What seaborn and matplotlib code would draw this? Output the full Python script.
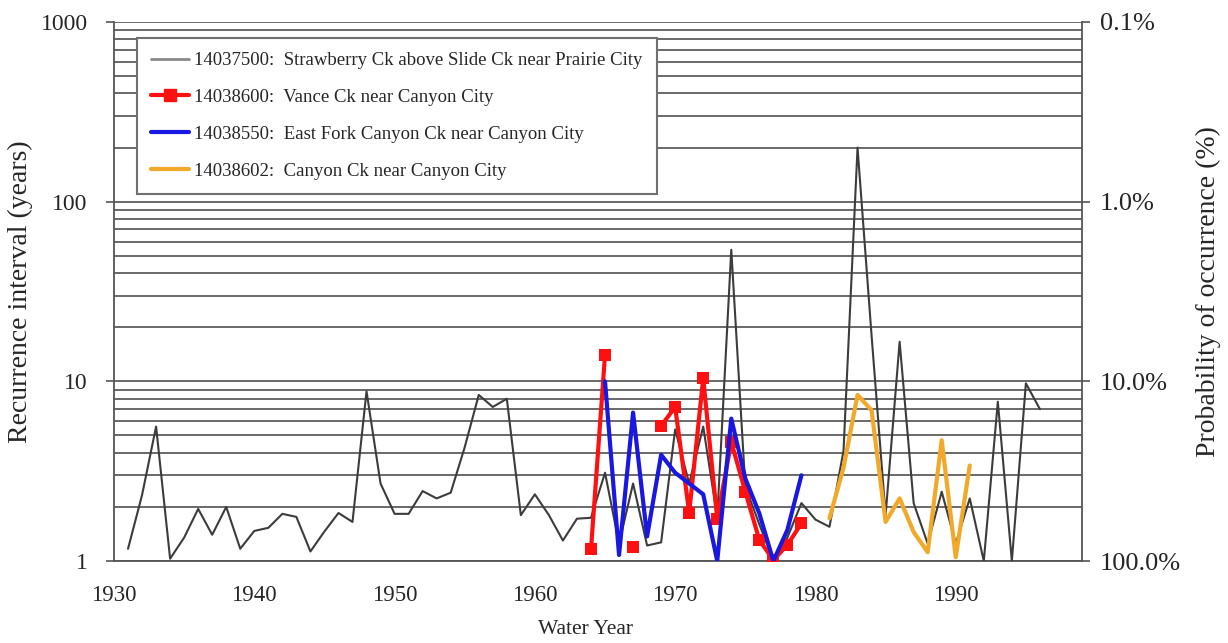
import numpy as np
import pandas as pd
import matplotlib
matplotlib.use("Agg")
import matplotlib.pyplot as plt
from matplotlib.lines import Line2D
from matplotlib.ticker import MultipleLocator, FixedLocator, NullFormatter, LogLocator
import seaborn as sns

# Annual peak-flow recurrence intervals (years) by water year
strawberry_years = list(range(1931, 1997))
strawberry_ri = [
    1.17, 2.33, 5.6, 1.03, 1.35, 1.95, 1.4, 2.0, 1.17, 1.47,
    1.53, 1.83, 1.76, 1.13, 1.46, 1.85, 1.65, 8.8, 2.7, 1.83,
    1.83, 2.45, 2.23, 2.4, 4.3, 8.4, 7.2, 8.0, 1.8, 2.35,
    1.8, 1.3, 1.72, 1.74, 3.1, 1.25, 2.7, 1.22, 1.27, 5.4,
    2.7, 5.6, 1.75, 54.0, 2.6, 1.6, 1.0, 1.35, 2.1, 1.7,
    1.55, 4.1, 200.0, 18.0, 1.8, 16.6, 2.1, 1.25, 2.43, 1.25,
    2.23, 1.0, 7.7, 1.0, 9.75, 7.0,
]

vance_years = list(range(1964, 1980))
vance_ri = [1.16, 14.0, np.nan, 1.19, np.nan, 5.65, 7.2, 1.86,
            10.4, 1.72, 4.6, 2.43, 1.31, 1.01, 1.23, 1.62]

eastfork_years = list(range(1965, 1980))
eastfork_ri = [10.0, 1.08, 6.7, 1.37, 3.9, 3.1, 2.7, 2.35,
               1.0, 6.2, 2.88, 1.84, 1.0, 1.49, 3.0]

canyon_years = list(range(1981, 1992))
canyon_ri = [1.73, 3.3, 8.4, 6.9, 1.65, 2.23, 1.45, 1.12, 4.7, 1.05, 3.4]

series_labels = [
    "14037500:  Strawberry Ck above Slide Ck near Prairie City",
    "14038600:  Vance Ck near Canyon City",
    "14038550:  East Fork Canyon Ck near Canyon City",
    "14038602:  Canyon Ck near Canyon City",
]
series_colors = ["#3c3c3c", "#ff1010", "#1818e0", "#f2a828"]

ri_ticks = [1, 10, 100, 1000]
ri_tick_labels = ["1", "10", "100", "1000"]
prob_tick_labels = ["100.0%", "10.0%", "1.0%", "0.1%"]
decade_ticks = [1930, 1940, 1950, 1960, 1970, 1980, 1990]


def to_frame(years, values):
    df = pd.DataFrame({"year": years, "ri": values})
    # break the line wherever a year is missing
    df["segment"] = df["ri"].isna().cumsum()
    return df.dropna()


sns.set_theme(style="white")
plt.rcParams["font.family"] = ["Liberation Serif", "DejaVu Serif"]
text_color = "#262626"
axis_color = "#555555"

fig = plt.figure(figsize=(12.28, 6.43), dpi=100)
ax = fig.add_axes([114 / 1228, 1 - 561 / 643, (1082 - 114) / 1228, (561 - 22) / 643])

ax.set_yscale("log")
ax.set_ylim(1, 1000)
ax.set_xlim(1930, 1999)

# horizontal grid on every log decade subdivision
ax.yaxis.set_major_locator(FixedLocator(ri_ticks))
ax.yaxis.set_minor_locator(LogLocator(base=10, subs=np.arange(2, 10)))
ax.yaxis.set_minor_formatter(NullFormatter())
ax.set_yticklabels(ri_tick_labels)
ax.yaxis.grid(True, which="both", color="#5e5e5e", lw=1.3)
ax.set_axisbelow(True)

straw = to_frame(strawberry_years, strawberry_ri)
vance = to_frame(vance_years, vance_ri)
east = to_frame(eastfork_years, eastfork_ri)
canyon = to_frame(canyon_years, canyon_ri)

sns.lineplot(data=straw, x="year", y="ri", color=series_colors[0], lw=1.5,
             estimator=None, units="segment", ax=ax, legend=False, zorder=3)
sns.lineplot(data=canyon, x="year", y="ri", color=series_colors[3], lw=3,
             estimator=None, units="segment", ax=ax, legend=False, zorder=4)
sns.lineplot(data=vance, x="year", y="ri", color=series_colors[1], lw=3,
             estimator=None, units="segment", ax=ax, legend=False, zorder=4)
sns.scatterplot(data=vance, x="year", y="ri", color=series_colors[1], marker="s",
                s=80, linewidth=0, ax=ax, legend=False, zorder=5)
sns.lineplot(data=east, x="year", y="ri", color=series_colors[2], lw=3,
             estimator=None, units="segment", ax=ax, legend=False, zorder=6)

# x axis: decades labelled, every year ticked
ax.xaxis.set_major_locator(FixedLocator(decade_ticks))
ax.xaxis.set_minor_locator(MultipleLocator(1))
ax.tick_params(axis="x", which="major", direction="inout", length=12, width=1.2,
               color=axis_color, labelsize=16.5, labelcolor=text_color, pad=11)
ax.tick_params(axis="x", which="minor", direction="inout", length=6, width=1.0,
               color=axis_color)
ax.tick_params(axis="y", which="major", direction="out", length=6, width=1.2,
               color=axis_color, labelsize=17, labelcolor=text_color, pad=13)
ax.tick_params(axis="y", which="minor", length=0)

for side in ["left", "right", "bottom"]:
    ax.spines[side].set_visible(True)
    ax.spines[side].set_color(axis_color)
    ax.spines[side].set_linewidth(1.3)
ax.spines["top"].set_visible(False)

ax.set_xlabel("Water Year", fontsize=15.5, color=text_color, va="center")
ax.xaxis.set_label_coords(0.4866, (561 - 630) / 539)
ax.set_ylabel("Recurrence interval (years)", fontsize=20, color=text_color, va="center")
ax.yaxis.set_label_coords((20 - 114) / 968, 0.5)

# right axis: exceedance probability of the same recurrence interval
ax2 = ax.twinx()
ax2.set_yscale("log")
ax2.set_ylim(1, 1000)
ax2.yaxis.set_major_locator(FixedLocator(ri_ticks))
ax2.yaxis.set_minor_locator(LogLocator(base=10, subs=np.arange(2, 10)))
ax2.yaxis.set_minor_formatter(NullFormatter())
ax2.set_yticklabels(prob_tick_labels)
ax2.tick_params(axis="y", which="major", direction="out", length=6, width=1.2,
                color=axis_color, labelsize=19, labelcolor=text_color, pad=7)
ax2.tick_params(axis="y", which="minor", length=0)
for side in ["left", "right", "bottom", "top"]:
    ax2.spines[side].set_visible(False)
ax2.set_ylabel("Probability of occurrence (%)", fontsize=20, color=text_color,
               va="center", rotation=90)
ax2.yaxis.set_label_coords((1208 - 114) / 968, 0.5)
ax2.grid(False)

handles = [
    Line2D([], [], color="#8a8a8a", lw=2),
    Line2D([], [], color=series_colors[1], lw=3, marker="s", markersize=9),
    Line2D([], [], color=series_colors[2], lw=3),
    Line2D([], [], color=series_colors[3], lw=3),
]
leg = ax.legend(handles, series_labels, loc="upper left",
                bbox_to_anchor=(137 / 1228, 1 - 38 / 643), bbox_transform=fig.transFigure,
                borderaxespad=0, fontsize=13.5, frameon=True, fancybox=False,
                framealpha=1, edgecolor="#707070", labelspacing=1.05,
                handlelength=2.0, handletextpad=0.3, borderpad=0.75,
                labelcolor=text_color)
leg.get_frame().set_linewidth(1.5)
leg.set_zorder(10)

fig.savefig("out.png", dpi=100, facecolor="white")
